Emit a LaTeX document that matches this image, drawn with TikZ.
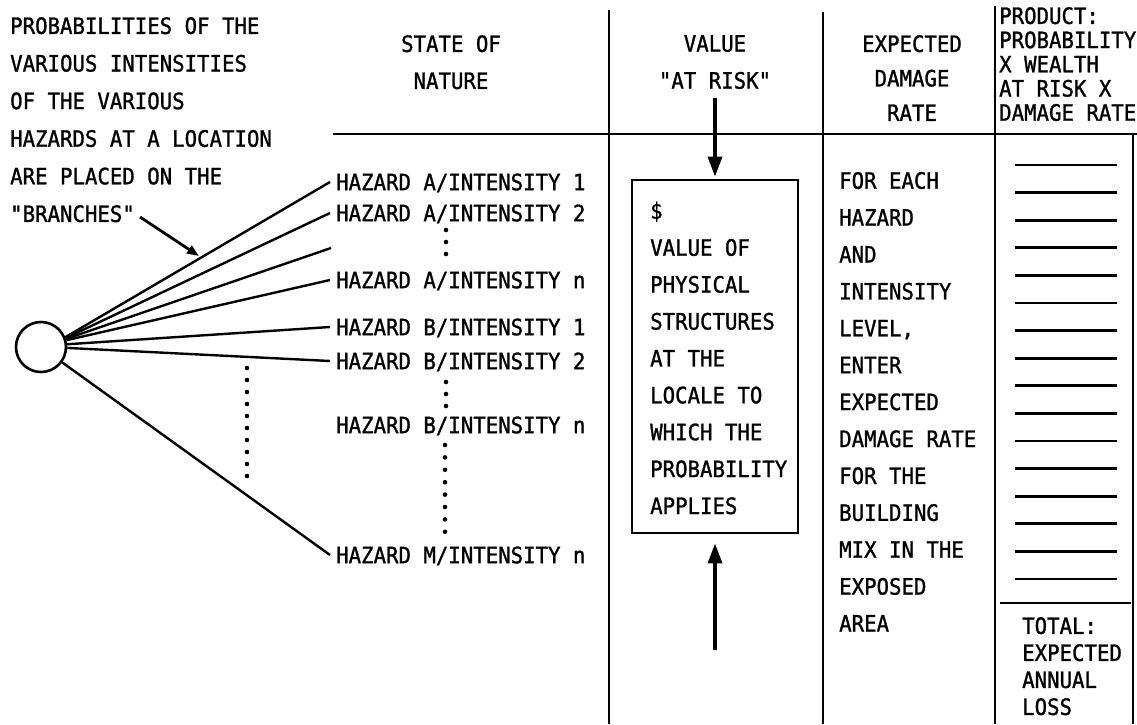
\documentclass[tikz,border=0pt]{standalone}
\usepackage{fontspec}
\newfontfamily\tw[FakeStretch=0.92,FakeBold=1.2]{DejaVu Sans Mono}
\newcommand\twsize[1]{\tw\fontsize{22.5}{#1}\selectfont}
\usetikzlibrary{arrows.meta,calc}
\begin{document}
\begin{tikzpicture}[x=1pt,y=-1pt,
  rule/.style={line width=2.5pt},
  branch/.style={line width=2.4pt},
  bigarrow/.style={line width=3.6pt,-{Triangle[length=20pt,width=14pt]}},
  rowlabel/.style={font=\twsize{20}, anchor=west, inner xsep=6pt, inner ysep=0pt,
                   text height=16.4pt, text depth=0pt},
  block/.style={inner sep=0pt, align=left, anchor=north west},
  head/.style={inner sep=0pt, align=center, anchor=north},
]
\useasboundingbox (0,0) rectangle (1137,724);

% explanatory text and pointer to the branches
\node[block, font=\twsize{37.6}] (intro) at (10,17)
  {PROBABILITIES OF THE\\VARIOUS INTENSITIES\\OF THE VARIOUS\\HAZARDS AT A LOCATION\\ARE PLACED ON THE\\"BRANCHES"};
\coordinate (brtail) at (140,217);
\coordinate (brtip) at (199,256);
\draw[line width=2.8pt,-{Triangle[length=12pt,width=9pt]}] (brtail) -- (brtip);

% column rules
\draw[rule] (333,134) -- (1137,134);
\draw[rule] (609,10) -- (609,724);
\draw[rule] (823,12) -- (823,724);
\draw[rule] (995,6) -- (995,724);
\draw[rule] (1133,134) -- (1133,724);

% column headings
\node[head, font=\twsize{37}] (hstate) at (451,35) {STATE OF\\NATURE};
\node[head, font=\twsize{37}] (hvalue) at (715,35) {VALUE\\"AT RISK"};
\node[head, font=\twsize{34.5}] (hrate) at (912,35) {EXPECTED\\DAMAGE\\RATE};
\node[block, font=\twsize{24.2}] (hprod) at (999,7)
  {PRODUCT:\\PROBABILITY\\X WEALTH\\AT RISK X\\DAMAGE RATE};

% event tree
\node[circle, draw, line width=2.6pt, minimum size=50pt, inner sep=0pt] (c) at (41,347) {};

\node[rowlabel] (a1) at (330,182) {HAZARD A/INTENSITY 1};
\node[rowlabel] (a2) at (330,213) {HAZARD A/INTENSITY 2};
\coordinate (a3) at (331,248);
\node[rowlabel] (an) at (330,280) {HAZARD A/INTENSITY n};
\node[rowlabel] (b1) at (330,327) {HAZARD B/INTENSITY 1};
\node[rowlabel] (b2) at (330,361) {HAZARD B/INTENSITY 2};
\node[rowlabel] (bn) at (330,425) {HAZARD B/INTENSITY n};
\node[rowlabel] (mn) at (330,555) {HAZARD M/INTENSITY n};

\draw[branch] (c.22) -- (a1.west);
\draw[branch] (c.20) -- (a2.west);
\draw[branch] (c.18) -- (a3);
\draw[branch] (c.15) -- (an.west);
\draw[branch] (c.6) -- (b1.west);
\draw[branch] (c.-2) -- (b2.west);
\draw[branch] (c.-36) -- (mn.west);

% ellipsis dots
\foreach \y in {230,242,254} \fill (446,\y) circle (2.3pt);
\foreach \y in {382,394,406} \fill (446,\y) circle (2.3pt);
\foreach \k in {0,...,7} \fill (445,445+12.4*\k) circle (2.3pt);
\foreach \k in {0,...,9} \fill (247,368+12*\k) circle (2.3pt);

% value at risk box
\node[draw, line width=2.8pt, minimum width=166pt, minimum height=353pt, inner sep=0pt] (box) at (715,356.5) {};
\node[block, font=\twsize{36.9}] (boxtxt) at (650,201.5)
  {\$\\VALUE OF\\PHYSICAL\\STRUCTURES\\AT THE\\LOCALE TO\\WHICH THE\\PROBABILITY\\APPLIES};
\coordinate (vtop) at (715,98);
\coordinate (vbot) at (715,650);
\draw[bigarrow, shorten >=2pt] (vtop) -- (box.north);
\draw[bigarrow, shorten >=9pt] (vbot) -- (box.south);

% damage rate column
\node[block, font=\twsize{36.9}] (ratetxt) at (839,171.8)
  {FOR EACH\\HAZARD\\AND\\INTENSITY\\LEVEL,\\ENTER\\EXPECTED\\DAMAGE RATE\\FOR THE\\BUILDING\\MIX IN THE\\EXPOSED\\AREA};

% product column
\foreach \k in {0,...,15} \draw[line width=2.8pt] (1015,165+27.6*\k) -- (1117,165+27.6*\k);
\draw[rule] (1000,603) -- (1131,603);
\node[block, font=\twsize{27}] (total) at (1022,617)
  {TOTAL:\\EXPECTED\\ANNUAL\\LOSS};
\end{tikzpicture}
\end{document}
